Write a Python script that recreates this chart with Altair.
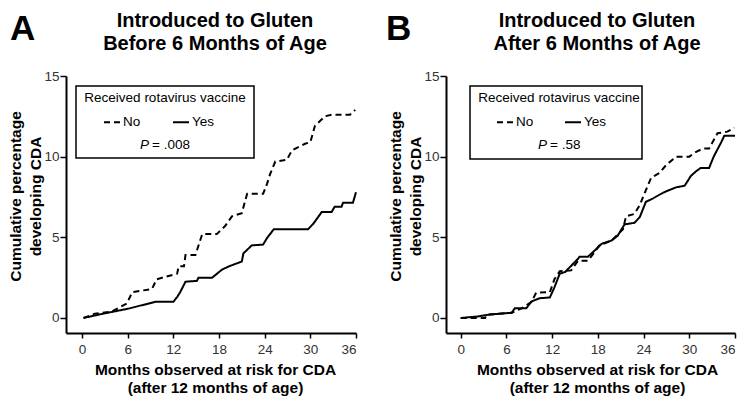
import altair as alt
import pandas as pd

FONT = "Liberation Sans"

# ---- data ----
A_NO_MONTHS = [0.2, 1.7, 3.9, 5.9, 6.6, 9.2, 9.8, 12.5, 12.7, 13.4, 13.6, 14.9, 15.8, 17.7, 18.8, 19.7,
               21.0, 21.4, 21.7, 23.8, 24.3, 24.7, 25.4, 26.9, 27.6, 29.3, 30.0, 30.6, 31.9, 32.8, 35.2, 35.9]
A_NO_PCT = [0.0, 0.27, 0.4, 0.9, 1.6, 1.8, 2.4, 2.75, 3.2, 3.2, 3.9, 3.9, 5.2, 5.2, 5.7, 6.3,
            6.5, 7.2, 7.7, 7.7, 8.3, 8.9, 9.7, 9.8, 10.4, 10.8, 10.9, 11.9, 12.5, 12.6, 12.6, 12.9]

A_YES_MONTHS = [0.2, 2.8, 6.1, 9.6, 12.0, 12.5, 12.9, 13.6, 15.1, 15.3, 17.1, 18.4, 19.3, 21.0, 21.2,
                22.3, 23.8, 24.3, 25.2, 29.7, 30.4, 31.5, 32.8, 33.2, 34.1, 34.3, 35.6, 36.0]
A_YES_PCT = [0.0, 0.27, 0.58, 1.0, 1.0, 1.3, 1.6, 2.25, 2.3, 2.5, 2.5, 3.0, 3.2, 3.5, 4.0,
             4.5, 4.55, 4.95, 5.5, 5.5, 5.85, 6.57, 6.57, 6.9, 6.9, 7.15, 7.15, 7.8]

B_NO_MONTHS = [0.0, 3.2, 3.4, 6.7, 8.0, 9.3, 9.9, 11.7, 12.3, 13.0, 14.5, 15.4, 16.7, 17.6, 18.2, 19.8,
               21.3, 21.7, 22.8, 23.5, 24.1, 25.0, 26.1, 27.0, 28.3, 30.0, 30.9, 31.8, 32.6, 33.7, 35.0, 35.9]
B_NO_PCT = [0.0, 0.0, 0.2, 0.33, 0.6, 1.0, 1.57, 1.6, 2.4, 2.9, 2.95, 3.55, 3.55, 4.1, 4.5, 4.8,
            5.5, 6.3, 6.45, 7.0, 7.7, 8.7, 9.0, 9.5, 10.0, 10.0, 10.3, 10.5, 10.5, 11.45, 11.55, 11.8]

B_YES_MONTHS = [0.0, 2.3, 3.6, 6.7, 7.1, 8.6, 9.3, 10.4, 11.7, 12.3, 13.0, 13.7, 15.4, 15.6, 16.7, 17.4,
                18.5, 19.8, 20.6, 21.5, 22.8, 23.5, 24.3, 25.2, 26.3, 27.2, 28.3, 29.4, 30.2, 30.9,
                31.5, 32.6, 33.2, 34.2, 34.6, 36.0]
B_YES_PCT = [0.0, 0.1, 0.2, 0.33, 0.6, 0.6, 1.03, 1.23, 1.27, 1.9, 2.75, 2.85, 3.67, 3.8, 3.8, 4.1,
             4.6, 4.8, 5.1, 5.8, 5.9, 6.25, 7.2, 7.4, 7.7, 7.9, 8.1, 8.2, 8.8, 9.1,
             9.3, 9.3, 10.0, 10.9, 11.3, 11.3]

GROUPS = ["No", "Yes"]
X_TICKS = [0, 6, 12, 18, 24, 30, 36]
Y_TICKS = [0, 5, 10, 15]
LEGEND_TITLE = "Received rotavirus vaccine"
P_VALUES = ["= .008", "= .58"]
PANEL_LETTERS = ["A", "B"]
PANEL_TITLES = [["Introduced to Gluten", "Before 6 Months of Age"],
                ["Introduced to Gluten", "After 6 Months of Age"]]
X_TITLE = ["Months observed at risk for CDA", "(after 12 months of age)"]
Y_TITLE = ["Cumulative percentage", "developing CDA"]

LEG_FS = 13.5


def curves(no_m, no_p, yes_m, yes_p):
    rows = []
    for g, ms, ps in (("No", no_m, no_p), ("Yes", yes_m, yes_p)):
        for i, (m, p) in enumerate(zip(ms, ps)):
            rows.append({"month": m, "pct": p, "group": g, "idx": i})
    return pd.DataFrame(rows)


def one(text):
    return pd.DataFrame({"t": [text]})


def panel(df, i, xmin, width, lay):
    lines = alt.Chart(df).mark_line(stroke="black", strokeWidth=2).encode(
        x=alt.X("month:Q",
                scale=alt.Scale(domain=[xmin, 36], nice=False, zero=False),
                axis=alt.Axis(values=X_TICKS, title=X_TITLE, titleX=lay["titleX"])),
        y=alt.Y("pct:Q",
                scale=alt.Scale(domain=[-0.93, 15], nice=False, zero=False),
                axis=alt.Axis(values=Y_TICKS, title=Y_TITLE, titleY=120)),
        strokeDash=alt.StrokeDash(
            "group:N", title=None,
            scale=alt.Scale(domain=GROUPS, range=[[6, 4], [1, 0]]),
            legend=alt.Legend(orient="none", legendX=lay["legX"], legendY=37,
                              direction="horizontal", symbolType="stroke",
                              symbolSize=256, symbolStrokeWidth=2,
                              symbolStrokeColor="black", labelFont=FONT,
                              labelFontSize=LEG_FS, labelColor="black", labelOffset=2,
                              columnPadding=lay["colPad"], padding=0)),
        order=alt.Order("idx:Q"),
    )
    box = alt.Chart(one("box")).mark_rect(fill="white", fillOpacity=0, stroke="black",
                                         strokeWidth=1.5).encode(
        x=alt.value(lay["box"][0]), x2=alt.value(lay["box"][1]),
        y=alt.value(10), y2=alt.value(lay["box"][2]))
    leg_title = alt.Chart(one(LEGEND_TITLE)).mark_text(
        font=FONT, fontSize=LEG_FS, color="black", align="center", baseline="alphabetic").encode(
        x=alt.value(lay["legC"]), y=alt.value(26), text="t:N")
    p_italic = alt.Chart(one("P")).mark_text(
        font=FONT, fontSize=LEG_FS, fontStyle="italic", color="black", align="left",
        baseline="alphabetic").encode(x=alt.value(lay["pX"]), y=alt.value(73), text="t:N")
    p_val = alt.Chart(one(P_VALUES[i])).mark_text(
        font=FONT, fontSize=LEG_FS, color="black", align="left",
        baseline="alphabetic").encode(x=alt.value(lay["pX"] + 12), y=alt.value(73), text="t:N")
    letter = alt.Chart(one(PANEL_LETTERS[i])).mark_text(
        font=FONT, fontSize=35, fontWeight="bold", color="black", align="left",
        baseline="alphabetic").encode(x=alt.value(lay["letterX"]), y=alt.value(-36), text="t:N")
    title = alt.Chart(one("title")).mark_text(
        font=FONT, fontSize=20, fontWeight="bold", color="black", align="center",
        baseline="alphabetic", lineHeight=23, text=PANEL_TITLES[i]).encode(
        x=alt.value(lay["titleX"]), y=alt.value(-49))
    return alt.layer(box, lines, leg_title, p_italic, p_val, letter, title).properties(
        width=width, height=257)


pa = panel(curves(A_NO_MONTHS, A_NO_PCT, A_YES_MONTHS, A_YES_PCT), 0, -2.1, 290,
           {"titleX": 149, "legX": 37, "colPad": 28, "box": (10, 188, 82), "legC": 99,
            "pX": 74, "letterX": -56})
pb = panel(curves(B_NO_MONTHS, B_NO_PCT, B_YES_MONTHS, B_YES_PCT), 1, -1.93, 289,
           {"titleX": 151, "legX": 50, "colPad": 27, "box": (24, 196, 83), "legC": 113,
            "pX": 92, "letterX": -60})

chart = alt.hconcat(pa, pb, spacing=90, bounds="flush").resolve_scale(
    x="independent", y="independent", strokeDash="independent").resolve_legend(
    strokeDash="independent").properties(
    padding={"left": 0, "top": 3, "right": 0, "bottom": 0}, background="white"
).configure_view(stroke=None).configure_axis(
    grid=False, domainColor="black", domainWidth=2, tickColor="black", tickWidth=1.5,
    labelFont=FONT, labelFontSize=13.5, labelColor="#333",
    titleFont=FONT, titleFontSize=15.5, titleFontWeight="bold", titleColor="black",
).configure_axisX(tickSize=5, labelPadding=4, titleLineHeight=18, titlePadding=7
).configure_axisY(tickSize=6, labelPadding=1, titleLineHeight=20, titlePadding=0)

chart.save("out.html", embed_options={"renderer": "svg", "actions": False})
